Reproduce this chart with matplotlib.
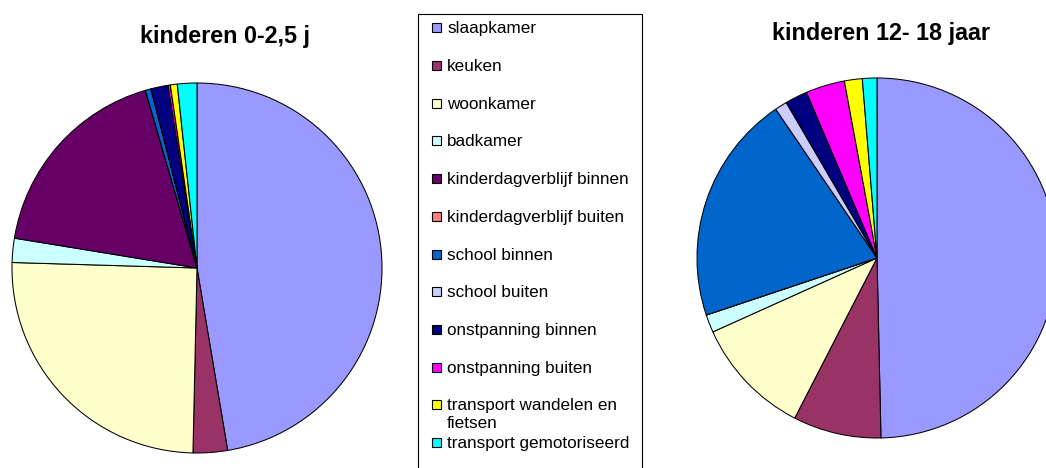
import matplotlib
matplotlib.use("Agg")
import matplotlib.pyplot as plt
from matplotlib.patches import Rectangle

categories = ["slaapkamer", "keuken", "woonkamer", "badkamer",
              "kinderdagverblijf binnen", "kinderdagverblijf buiten",
              "school binnen", "school buiten", "onstpanning binnen",
              "onstpanning buiten", "transport wandelen en\nfietsen",
              "transport gemotoriseerd"]
colors = ["#9999FF", "#993366", "#FFFFCC", "#CCFFFF", "#660066", "#FF8080",
          "#0066CC", "#CCCCFF", "#000080", "#FF00FF", "#FFFF00", "#00FFFF"]

# percentages
kinderen_0_2_5 = [47.3, 3.0, 25.1, 2.1, 17.9, 0.0, 0.5, 0.0, 1.5, 0.2, 0.6, 1.7]
kinderen_12_18 = [49.6, 7.9, 10.7, 1.6, 0.0, 0.0, 20.6, 1.1, 2.0, 3.5, 1.6, 1.3]

title_left = "kinderen 0-2,5 j"
title_right = "kinderen 12- 18 jaar"

W, H = 1046, 468
fig = plt.figure(figsize=(W / 100, H / 100), dpi=100)
ax = fig.add_axes([0, 0, 1, 1])

wp = dict(edgecolor="black", linewidth=0.75)
ax.pie(kinderen_0_2_5, colors=colors, center=(197, H - 268), radius=185,
       startangle=90, counterclock=False, wedgeprops=wp, frame=True)
ax.pie(kinderen_12_18, colors=colors, center=(877, H - 258), radius=180,
       startangle=90, counterclock=False, wedgeprops=wp, frame=True)

ax.set_xlim(0, W)
ax.set_ylim(0, H)
ax.set_aspect("auto")
ax.axis("off")

font = "Liberation Sans"
ax.text(225.5, H - 43, title_left, ha="center", va="baseline",
        fontsize=16.8, fontweight="bold", family=font)
ax.text(881, H - 40, title_right, ha="center", va="baseline",
        fontsize=16.8, fontweight="bold", family=font)

# legend box
ax.add_patch(Rectangle((418, -10), 642 - 418, (H - 14) + 10, fill=False,
                       edgecolor="black", linewidth=0.8, clip_on=False))
y0, step = 27.8, 37.7
for i, (lab, col) in enumerate(zip(categories, colors)):
    cy = y0 + i * step
    ax.add_patch(Rectangle((432, H - cy - 4.5), 9, 9, facecolor=col,
                           edgecolor="black", linewidth=0.8))
    for j, line in enumerate(lab.split("\n")):
        ax.text(447, H - (cy + 5.5 + j * 17.7), line, ha="left",
                va="baseline", fontsize=12.3, family=font)

fig.savefig("out.png", dpi=100)
